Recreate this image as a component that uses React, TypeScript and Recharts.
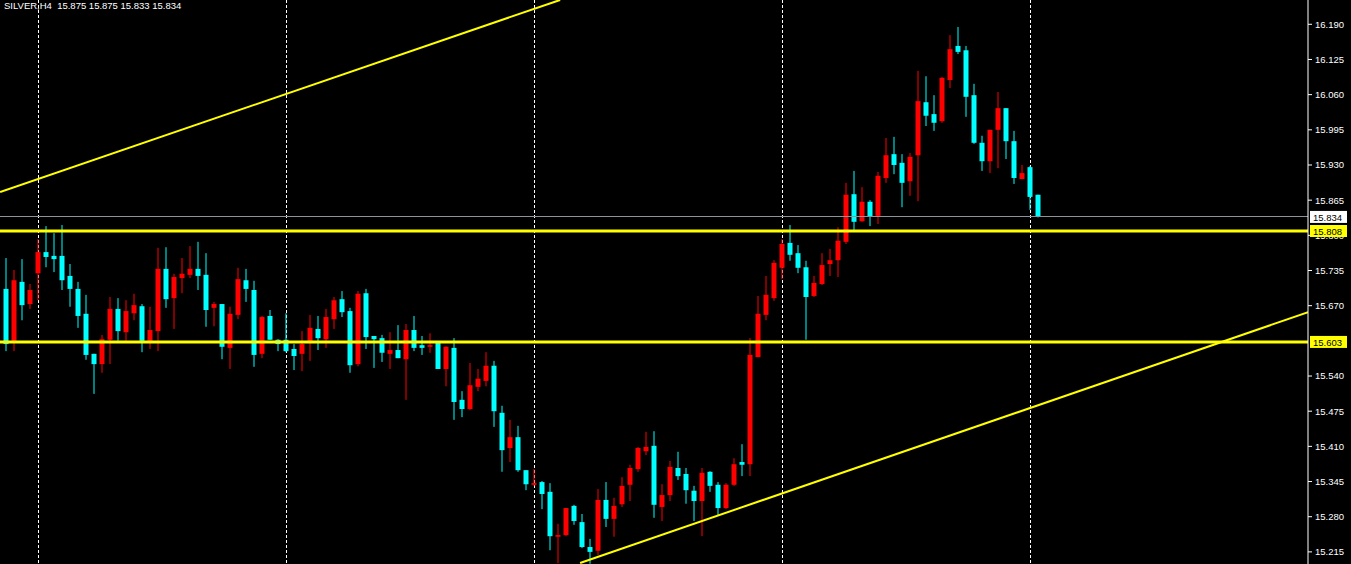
import React from "react";
import {
  ComposedChart,
  Bar,
  XAxis,
  YAxis,
  CartesianGrid,
  ReferenceLine,
} from "recharts";

// H4 candles, oldest first
const opens = [
  15.701, 15.605, 15.714, 15.673, 15.730, 15.769, 15.762, 15.762, 15.725, 15.701,
  15.655, 15.581, 15.562, 15.607, 15.664, 15.621, 15.656, 15.669, 15.605, 15.623,
  15.738, 15.684, 15.721, 15.727, 15.738, 15.727, 15.666, 15.673, 15.592, 15.653,
  15.717, 15.699, 15.581, 15.651, 15.607, 15.607, 15.590, 15.581, 15.601, 15.627,
  15.608, 15.645, 15.682, 15.660, 15.562, 15.693, 15.614, 15.610, 15.581, 15.588,
  15.571, 15.625, 15.597, 15.594, 15.601, 15.553, 15.592, 15.496, 15.479, 15.520,
  15.531, 15.559, 15.472, 15.407, 15.427, 15.366, 15.339, 15.344, 15.326, 15.243,
  15.246, 15.300, 15.270, 15.224, 15.217, 15.311, 15.276, 15.303, 15.339, 15.368,
  15.401, 15.411, 15.298, 15.320, 15.370, 15.359, 15.328, 15.309, 15.363, 15.339,
  15.296, 15.339, 15.381, 15.377, 15.575, 15.653, 15.684, 15.740, 15.786, 15.767,
  15.741, 15.688, 15.710, 15.747, 15.754, 15.788, 15.876, 15.826, 15.862, 15.836,
  15.906, 15.950, 15.934, 15.900, 15.948, 16.046, 16.024, 16.011, 16.087, 16.150,
  16.142, 16.059, 15.971, 15.937, 15.995, 16.035, 15.974, 15.904, 15.926, 15.875,
];
const highs = [
  15.758, 15.736, 15.756, 15.710, 15.793, 15.817, 15.804, 15.819, 15.747, 15.714,
  15.690, 15.581, 15.616, 15.686, 15.684, 15.680, 15.692, 15.673, 15.668, 15.777,
  15.778, 15.729, 15.758, 15.780, 15.788, 15.767, 15.677, 15.673, 15.668, 15.740,
  15.738, 15.716, 15.651, 15.662, 15.608, 15.656, 15.599, 15.623, 15.653, 15.651,
  15.664, 15.686, 15.697, 15.666, 15.697, 15.701, 15.614, 15.616, 15.621, 15.634,
  15.636, 15.651, 15.614, 15.619, 15.603, 15.595, 15.610, 15.512, 15.564, 15.553,
  15.584, 15.568, 15.485, 15.459, 15.448, 15.366, 15.368, 15.346, 15.342, 15.267,
  15.296, 15.302, 15.285, 15.239, 15.331, 15.344, 15.315, 15.353, 15.376, 15.409,
  15.437, 15.438, 15.340, 15.383, 15.400, 15.370, 15.337, 15.370, 15.364, 15.344,
  15.342, 15.388, 15.414, 15.610, 15.688, 15.725, 15.754, 15.793, 15.819, 15.782,
  15.753, 15.725, 15.767, 15.775, 15.815, 15.897, 15.919, 15.889, 15.865, 15.917,
  15.980, 15.982, 15.950, 15.952, 16.104, 16.094, 16.059, 16.093, 16.170, 16.185,
  16.150, 16.080, 15.984, 15.995, 16.065, 16.035, 15.993, 15.930, 15.928, 15.875,
];
const lows = [
  15.586, 15.586, 15.643, 15.664, 15.680, 15.741, 15.732, 15.699, 15.668, 15.629,
  15.570, 15.507, 15.546, 15.562, 15.605, 15.605, 15.643, 15.584, 15.590, 15.586,
  15.666, 15.627, 15.693, 15.721, 15.699, 15.631, 15.632, 15.571, 15.553, 15.645,
  15.677, 15.557, 15.573, 15.607, 15.586, 15.584, 15.551, 15.549, 15.568, 15.588,
  15.592, 15.627, 15.649, 15.546, 15.558, 15.590, 15.555, 15.566, 15.553, 15.573,
  15.496, 15.586, 15.579, 15.583, 15.553, 15.521, 15.459, 15.464, 15.477, 15.512,
  15.521, 15.446, 15.363, 15.381, 15.363, 15.329, 15.337, 15.294, 15.218, 15.194,
  15.244, 15.265, 15.222, 15.193, 15.209, 15.261, 15.243, 15.298, 15.309, 15.363,
  15.394, 15.278, 15.272, 15.309, 15.348, 15.304, 15.272, 15.244, 15.326, 15.283,
  15.294, 15.337, 15.355, 15.355, 15.575, 15.643, 15.679, 15.719, 15.753, 15.730,
  15.607, 15.686, 15.708, 15.725, 15.723, 15.784, 15.810, 15.825, 15.817, 15.821,
  15.897, 15.913, 15.852, 15.873, 15.863, 16.002, 15.993, 16.008, 16.072, 16.135,
  16.019, 15.969, 15.919, 15.915, 15.924, 15.941, 15.895, 15.904, 15.847, 15.833,
];
const closes = [
  15.599, 15.717, 15.671, 15.699, 15.769, 15.760, 15.756, 15.717, 15.701, 15.651,
  15.579, 15.562, 15.608, 15.664, 15.623, 15.660, 15.671, 15.605, 15.625, 15.738,
  15.682, 15.723, 15.729, 15.738, 15.725, 15.662, 15.673, 15.594, 15.655, 15.719,
  15.701, 15.579, 15.649, 15.607, 15.599, 15.586, 15.577, 15.599, 15.629, 15.610,
  15.649, 15.680, 15.658, 15.560, 15.692, 15.612, 15.608, 15.583, 15.588, 15.573,
  15.625, 15.592, 15.592, 15.597, 15.553, 15.594, 15.492, 15.479, 15.523, 15.535,
  15.559, 15.475, 15.403, 15.427, 15.366, 15.340, 15.342, 15.322, 15.244, 15.246,
  15.296, 15.272, 15.224, 15.215, 15.311, 15.276, 15.300, 15.337, 15.370, 15.407,
  15.409, 15.302, 15.320, 15.372, 15.355, 15.329, 15.309, 15.361, 15.337, 15.296,
  15.339, 15.377, 15.376, 15.579, 15.655, 15.690, 15.749, 15.784, 15.764, 15.740,
  15.686, 15.712, 15.745, 15.754, 15.790, 15.875, 15.825, 15.862, 15.834, 15.910,
  15.948, 15.930, 15.897, 15.945, 16.048, 16.021, 16.008, 16.091, 16.144, 16.139,
  16.056, 15.971, 15.937, 15.995, 16.035, 15.974, 15.906, 15.915, 15.871, 15.834,
];

// 15.605 sits fully under the 15.603 tag in the original, so it is left out
const yTicks = [
  16.19, 16.125, 16.06, 15.995, 15.93, 15.865, 15.8, 15.735, 15.67,
  15.54, 15.475, 15.41, 15.345, 15.28, 15.215,
];
const levels = [15.808, 15.603];
const lastPrice = 15.834;
const tagPrices = [lastPrice, ...levels];
const separators = [4, 35, 66, 97, 128];
const upperTrend = [
  { x: -0.8, y: 15.88 },
  { x: 69.2, y: 16.235 },
];
const lowerTrend = [
  { x: 71.7, y: 15.1944 },
  { x: 162.7, y: 15.658 },
];

const UP = "#ff0000";
const DOWN = "#00ffff";
const FONT = "'Liberation Sans', Arial, sans-serif";
const Y_DOMAIN: [number, number] = [15.1926, 16.2349];

const data = opens.map((o, i) => ({
  i,
  open: o,
  high: highs[i],
  low: lows[i],
  close: closes[i],
}));

const Candle = (props: any) => {
  const { x, y, width, height, payload } = props;
  const { open, close, high, low } = payload;
  const k = height / (high - low || 1);
  const yOf = (v: number) => y + (high - v) * k;
  const color = close >= open ? UP : DOWN;
  const cx = x + width / 2;
  const top = yOf(Math.max(open, close));
  const bot = yOf(Math.min(open, close));
  return (
    <g>
      <line x1={cx} x2={cx} y1={y} y2={y + height} stroke={color} strokeWidth={1} />
      <rect x={x} y={top} width={width} height={Math.max(bot - top, 1)} fill={color} />
    </g>
  );
};

// boxed price tags come from a second, 1px wide axis so they are drawn over the scale
const PriceTag = (props: any) => {
  const { x, y, payload } = props;
  const v = payload.value;
  const bg = v === lastPrice ? "#fff" : "#ffff00";
  return (
    <g>
      <rect x={x - 40} y={y - 6} width={37} height={12} fill={bg} />
      <text x={x - 37} y={y + 4} fill="#000" fontSize={9.5} fontFamily={FONT}>
        {v.toFixed(3)}
      </text>
    </g>
  );
};

export default function App() {
  return (
    <div style={{ position: "fixed", left: 0, top: 0, width: 1351, height: 564, background: "#000" }}>
      <ComposedChart
        width={1351}
        height={564}
        data={data}
        margin={{ top: 0, right: 0, bottom: 0, left: 0 }}
        style={{ background: "#000" }}
      >
        <CartesianGrid
          horizontal={false}
          verticalValues={separators}
          stroke="#fff"
          strokeDasharray="3 2"
          strokeOpacity={1}
        />
        <XAxis
          type="number"
          dataKey="i"
          domain={[-0.8125, 162.6875]}
          allowDataOverflow
          hide
        />
        <YAxis
          type="number"
          orientation="right"
          width={42}
          domain={Y_DOMAIN}
          allowDataOverflow
          ticks={yTicks}
          interval={0}
          tickFormatter={(v: number) => v.toFixed(3)}
          tick={{ fill: "#fff", fontSize: 9.5, fontFamily: FONT }}
          tickLine={{ stroke: "#fff" }}
          axisLine={{ stroke: "#fff" }}
          tickSize={4}
          tickMargin={3}
        />
        <YAxis
          yAxisId="tags"
          type="number"
          orientation="right"
          width={1}
          domain={Y_DOMAIN}
          allowDataOverflow
          ticks={tagPrices}
          interval={0}
          tick={<PriceTag />}
          tickLine={false}
          axisLine={false}
          tickSize={0}
          tickMargin={0}
        />
        <Bar
          dataKey={(d: any) => [d.low, d.high]}
          barSize={5}
          shape={<Candle />}
          isAnimationActive={false}
        />
        <ReferenceLine segment={upperTrend} stroke="#ffff00" strokeWidth={2} ifOverflow="hidden" />
        <ReferenceLine segment={lowerTrend} stroke="#ffff00" strokeWidth={2} ifOverflow="hidden" />
        <ReferenceLine y={lastPrice} stroke="#8c939b" strokeWidth={1} shapeRendering="crispEdges" />
        {levels.map((l) => (
          <ReferenceLine key={l} y={l} stroke="#ffff00" strokeWidth={3} />
        ))}
      </ComposedChart>
      <div
        style={{
          position: "absolute",
          left: 4,
          top: 0,
          color: "#fff",
          fontFamily: FONT,
          fontSize: 9.5,
          lineHeight: "12px",
          whiteSpace: "pre",
        }}
      >
        SILVER,H4  15.875 15.875 15.833 15.834
      </div>
    </div>
  );
}
